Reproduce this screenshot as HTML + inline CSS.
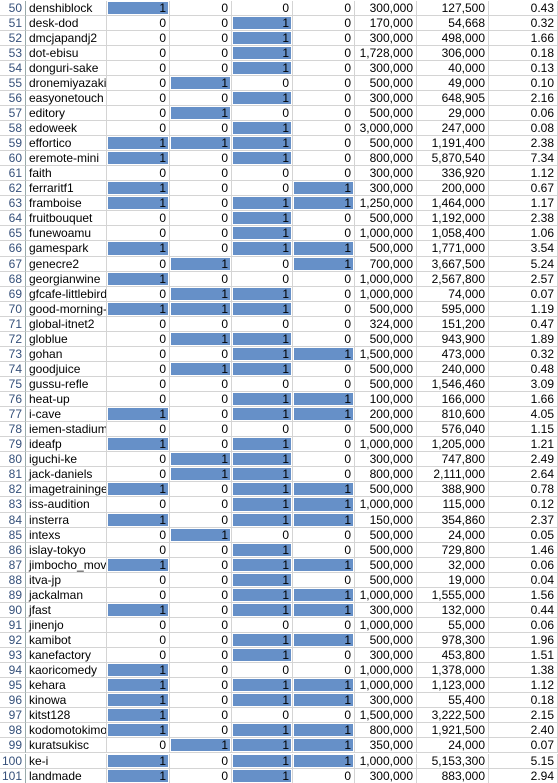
<!DOCTYPE html>
<html><head><meta charset="utf-8">
<style>
html,body{margin:0;padding:0;background:#fff;width:558px;height:783px;overflow:hidden}
#sheet{position:relative;width:558px;height:783px;font-family:"Liberation Sans","Noto Sans CJK JP",sans-serif;font-size:12px;color:#000}
.c{position:absolute;box-sizing:border-box;border-right:1px solid #d4d4d4;border-bottom:1px solid #d4d4d4;overflow:hidden;white-space:nowrap;line-height:14px;height:15.06px}
.r{text-align:right;padding-right:3px}
.l{text-align:left;padding-left:3px}
.hdr{color:#35507a;text-align:right;padding-right:3px;border-right:1px solid #9aa}
.bar{position:absolute;background:#6690c8}
.t{position:relative}
</style></head><body>
<div id="sheet"></div>
<script>
const rowNums=[50,51,52,53,54,55,56,57,58,59,60,61,62,63,64,65,66,67,68,69,70,71,72,73,74,75,76,77,78,79,80,81,82,83,84,85,86,87,88,89,90,91,92,93,94,95,96,97,98,99,100,101];
const names=["denshiblock","desk-dod","dmcjapandj2","dot-ebisu","donguri-sake","dronemiyazaki","easyonetouch","editory","edoweek","effortico","eremote-mini","faith","ferraritf1","framboise","fruitbouquet","funewoamu","gamespark","genecre2","georgianwine","gfcafe-littlebird","good-morning-t","global-itnet2","globlue","gohan","goodjuice","gussu-refle","heat-up","i-cave","iemen-stadium","ideafp","iguchi-ke","jack-daniels","imagetrainingen","iss-audition","insterra","intexs","islay-tokyo","jimbocho_movie","itva-jp","jackalman","jfast","jinenjo","kamibot","kanefactory","kaoricomedy","kehara","kinowa","kitst128","kodomotokimon","kuratsukisc","ke-i","landmade"];
const flag1=[1,0,0,0,0,0,0,0,0,1,1,0,1,1,0,0,1,0,1,0,1,0,0,0,0,0,0,1,0,1,0,0,1,0,1,0,0,1,0,0,1,0,0,0,1,1,1,1,1,0,1,1];
const flag2=[0,0,0,0,0,1,0,1,0,1,0,0,0,0,0,0,0,1,0,1,1,0,1,0,1,0,0,0,0,0,1,1,0,0,0,1,0,0,0,0,0,0,0,0,0,0,0,0,0,1,0,0];
const flag3=[0,1,1,1,1,0,1,0,1,1,1,0,0,1,1,1,1,0,0,1,1,0,1,1,1,0,1,1,0,1,1,1,1,1,1,0,1,1,1,1,1,0,1,1,0,1,1,0,1,1,1,1];
const flag4=[0,0,0,0,0,0,0,0,0,0,0,0,1,1,0,0,1,1,0,0,0,0,0,1,0,0,1,1,0,0,0,0,1,1,1,0,0,1,0,1,1,0,1,0,0,1,1,0,1,1,1,0];
const goals=["300,000","170,000","300,000","1,728,000","300,000","500,000","300,000","500,000","3,000,000","500,000","800,000","300,000","300,000","1,250,000","500,000","1,000,000","500,000","700,000","1,000,000","1,000,000","500,000","324,000","500,000","1,500,000","500,000","500,000","100,000","200,000","500,000","1,000,000","300,000","800,000","500,000","1,000,000","150,000","500,000","500,000","500,000","500,000","1,000,000","300,000","1,000,000","500,000","300,000","1,000,000","1,000,000","300,000","1,500,000","800,000","350,000","1,000,000","300,000"];
const raised=["127,500","54,668","498,000","306,000","40,000","49,000","648,905","29,000","247,000","1,191,400","5,870,540","336,920","200,000","1,464,000","1,192,000","1,058,400","1,771,000","3,667,500","2,567,800","74,000","595,000","151,200","943,900","473,000","240,000","1,546,460","166,000","810,600","576,040","1,205,000","747,800","2,111,000","388,900","115,000","354,860","24,000","729,800","32,000","19,000","1,555,000","132,000","55,000","978,300","453,800","1,378,000","1,123,000","55,400","3,222,500","1,921,500","24,000","5,153,300","883,000"];
const ratios=["0.43","0.32","1.66","0.18","0.13","0.10","2.16","0.06","0.08","2.38","7.34","1.12","0.67","1.17","2.38","1.06","3.54","5.24","2.57","0.07","1.19","0.47","1.89","0.32","0.48","3.09","1.66","4.05","1.15","1.21","2.49","2.64","0.78","0.12","2.37","0.05","1.46","0.06","0.04","1.56","0.44","0.06","1.96","1.51","1.38","1.12","0.18","2.15","2.40","0.07","5.15","2.94"];

const colX=[0,26,107,170,232,293,355,417,489,558];
const RH=15.06, TOP=0.5;
const sheet=document.getElementById('sheet');
function cell(x0,x1,y,cls,text,name){
  const d=document.createElement('div');
  d.className='c '+cls;
  d.style.left=x0+'px';d.style.top=y+'px';d.style.width=(x1-x0)+'px';
  
  
  if(text!==null){const s=document.createElement('span');s.className='t';s.textContent=text;d.appendChild(s);}
  sheet.appendChild(d);return d;
}
const flags=[flag1,flag2,flag3,flag4];
for(let i=0;i<rowNums.length;i++){
  const y=TOP+i*RH;
  const h=cell(colX[0],colX[1],y,'hdr',String(rowNums[i]),'row-header');
  
  cell(colX[1],colX[2],y,'l',names[i],'name-cell');
  for(let k=0;k<4;k++){
    const v=flags[k][i];
    const d=cell(colX[2+k],colX[3+k],y,'r',null,'flag-cell');
    if(v===1){
      const b=document.createElement('div');
      b.className='bar';
      b.style.left='1px';b.style.right='1px';b.style.top='1px';b.style.bottom='1px';
      
      
      d.appendChild(b);
    }
    const s=document.createElement('span');s.className='t';s.textContent=String(v);d.appendChild(s);
  }
  cell(colX[6],colX[7],y,'r',goals[i],'goal-cell');
  cell(colX[7],colX[8],y,'r',raised[i],'raised-cell');
  cell(colX[8],colX[9],y,'r',ratios[i],'ratio-cell');
}
</script>
</body></html>
